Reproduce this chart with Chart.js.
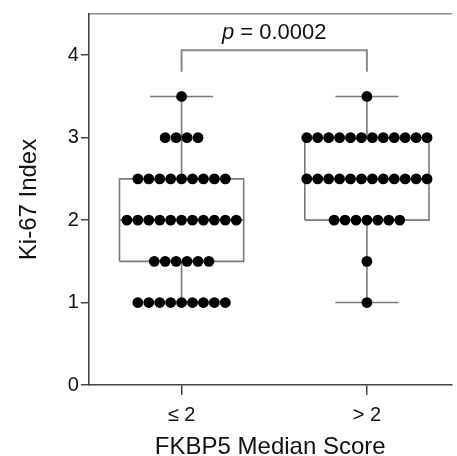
<!DOCTYPE html>
<html>
<head>
<meta charset="utf-8">
<script src="https://cdn.jsdelivr.net/npm/chart.js@4/dist/chart.umd.min.js"></script>
<style>
  html, body { margin: 0; padding: 0; background: #fff; overflow: hidden; }
  #wrap { width: 457px; height: 459px; position: relative; }
</style>
</head>
<body>
<div id="wrap"><canvas id="chart"></canvas></div>
<script>
// categories on the x axis
const categories = ['≤ 2', '> 2']

// Ki-67 index of each case, per group
const low_fkbp5 = [3.5,
    3, 3, 3, 3,
    2.5, 2.5, 2.5, 2.5, 2.5, 2.5, 2.5, 2.5, 2.5,
    2, 2, 2, 2, 2, 2, 2, 2, 2, 2, 2,
    1.5, 1.5, 1.5, 1.5, 1.5, 1.5,
    1, 1, 1, 1, 1, 1, 1, 1, 1]
const high_fkbp5 = [3.5,
    3, 3, 3, 3, 3, 3, 3, 3, 3, 3, 3, 3,
    2.5, 2.5, 2.5, 2.5, 2.5, 2.5, 2.5, 2.5, 2.5, 2.5, 2.5, 2.5,
    2, 2, 2, 2, 2, 2, 2,
    1.5,
    1]

// box summaries: [min, q1, median, q3, max]
const box_low = [1, 1.5, 2, 2.5, 3.5]
const box_high = [1, 2, 2.5, 3, 3.5]

const y_ticks = [0, 1, 2, 3, 4]
const p_label = '0.0002'

const font = '"Liberation Sans", Arial, sans-serif'
const dot_step = 0.059
const box_half = 0.335
const cap_half = 0.17

function swarm(values, center) {
    // spread equal values side by side around the group centre
    const counts = {}
    values.forEach(v => counts[v] = (counts[v] || 0) + 1)
    const seen = {}
    return values.map(v => {
        const i = seen[v] || 0
        seen[v] = i + 1
        return { x: center + (i - (counts[v] - 1) / 2) * dot_step, y: v }
    })
}

function box_points(stats, center) {
    const [mn, q1, md, q3, mx] = stats
    const l = center - box_half, r = center + box_half
    const gap = { x: center, y: null }
    return [
        { x: l, y: q1 }, { x: l, y: q3 }, { x: r, y: q3 }, { x: r, y: q1 }, { x: l, y: q1 }, gap,
        { x: l, y: md }, { x: r, y: md }, gap,
        { x: center, y: q3 }, { x: center, y: mx }, gap,
        { x: center - cap_half, y: mx }, { x: center + cap_half, y: mx }, gap,
        { x: center, y: q1 }, { x: center, y: mn }, gap,
        { x: center - cap_half, y: mn }, { x: center + cap_half, y: mn }
    ]
}

const line_style = {
    showLine: true,
    pointRadius: 0,
    borderColor: '#7a7a7a',
    borderWidth: 1.6,
    spanGaps: false,
    order: 2
}

const dot_style = {
    pointRadius: 5.4,
    pointBackgroundColor: '#000',
    pointBorderWidth: 0,
    showLine: false,
    order: 0
}

const p_text = {
    id: 'p_text',
    afterDatasetsDraw(chart) {
        const ctx = chart.ctx
        const x = chart.scales.x.getPixelForValue(1.5)
        const y = chart.scales.y.getPixelForValue(4.2)
        ctx.save()
        ctx.fillStyle = '#111'
        ctx.textBaseline = 'alphabetic'
        ctx.font = `italic 22px ${font}`
        const a = 'p'
        const wa = ctx.measureText(a).width
        ctx.font = `22px ${font}`
        const b = ' = ' + p_label
        const wb = ctx.measureText(b).width
        const start = x - (wa + wb) / 2
        ctx.font = `italic 22px ${font}`
        ctx.fillText(a, start, y)
        ctx.font = `22px ${font}`
        ctx.fillText(b, start + wa, y)
        ctx.restore()
    }
}

new Chart(document.getElementById('chart'), {
    type: 'scatter',
    data: {
        datasets: [
            Object.assign({ data: swarm(low_fkbp5, 1) }, dot_style),
            Object.assign({ data: swarm(high_fkbp5, 2) }, dot_style),
            Object.assign({ data: box_points(box_low, 1) }, line_style),
            Object.assign({ data: box_points(box_high, 2) }, line_style),
            Object.assign({
                data: [{ x: 1, y: 3.8 }, { x: 1, y: 4.06 }, { x: 2, y: 4.06 }, { x: 2, y: 3.8 }]
            }, line_style, { borderColor: '#8a8a8a', borderWidth: 2 })
        ]
    },
    options: {
        responsive: true,
        maintainAspectRatio: false,
        animation: false,
        layout: { padding: { top: 4, right: 0, left: 15, bottom: 0 } },
        plugins: { legend: { display: false }, tooltip: { enabled: false } },
        scales: {
            x: {
                type: 'linear',
                min: 0.5,
                max: 2.457,
                afterBuildTicks: scale => { scale.ticks = categories.map((c, i) => ({ value: i + 1 })) },
                ticks: {
                    callback: v => categories[v - 1],
                    font: { family: font, size: 20, lineHeight: 1 },
                    color: '#111',
                    padding: 10,
                    maxRotation: 0
                },
                grid: { display: true, drawOnChartArea: false, drawTicks: true, tickLength: 10, color: '#444', lineWidth: 1.5 },
                border: { color: '#444', width: 1.6 },
                title: {
                    display: true,
                    text: 'FKBP5 Median Score',
                    font: { family: font, size: 24, lineHeight: 1 },
                    color: '#111',
                    padding: { top: 0, bottom: 0 }
                }
            },
            x_top: {
                type: 'linear',
                position: 'top',
                min: 0.5,
                max: 2.457,
                ticks: { display: false },
                grid: { display: false },
                border: { color: '#8a8a8a', width: 1.6 }
            },
            y: {
                min: 0,
                max: 4.5,
                afterBuildTicks: scale => { scale.ticks = y_ticks.map(v => ({ value: v })) },
                ticks: {
                    font: { family: font, size: 20 },
                    color: '#111',
                    padding: 2
                },
                grid: { display: true, drawOnChartArea: false, drawTicks: true, tickLength: 8, color: '#444', lineWidth: 1.5 },
                border: { color: '#444', width: 1.6 },
                title: {
                    display: true,
                    text: 'Ki-67 Index',
                    font: { family: font, size: 24 },
                    color: '#111',
                    padding: { top: 0, bottom: 22 }
                }
            }
        }
    },
    plugins: [p_text]
})
</script>
</body>
</html>
